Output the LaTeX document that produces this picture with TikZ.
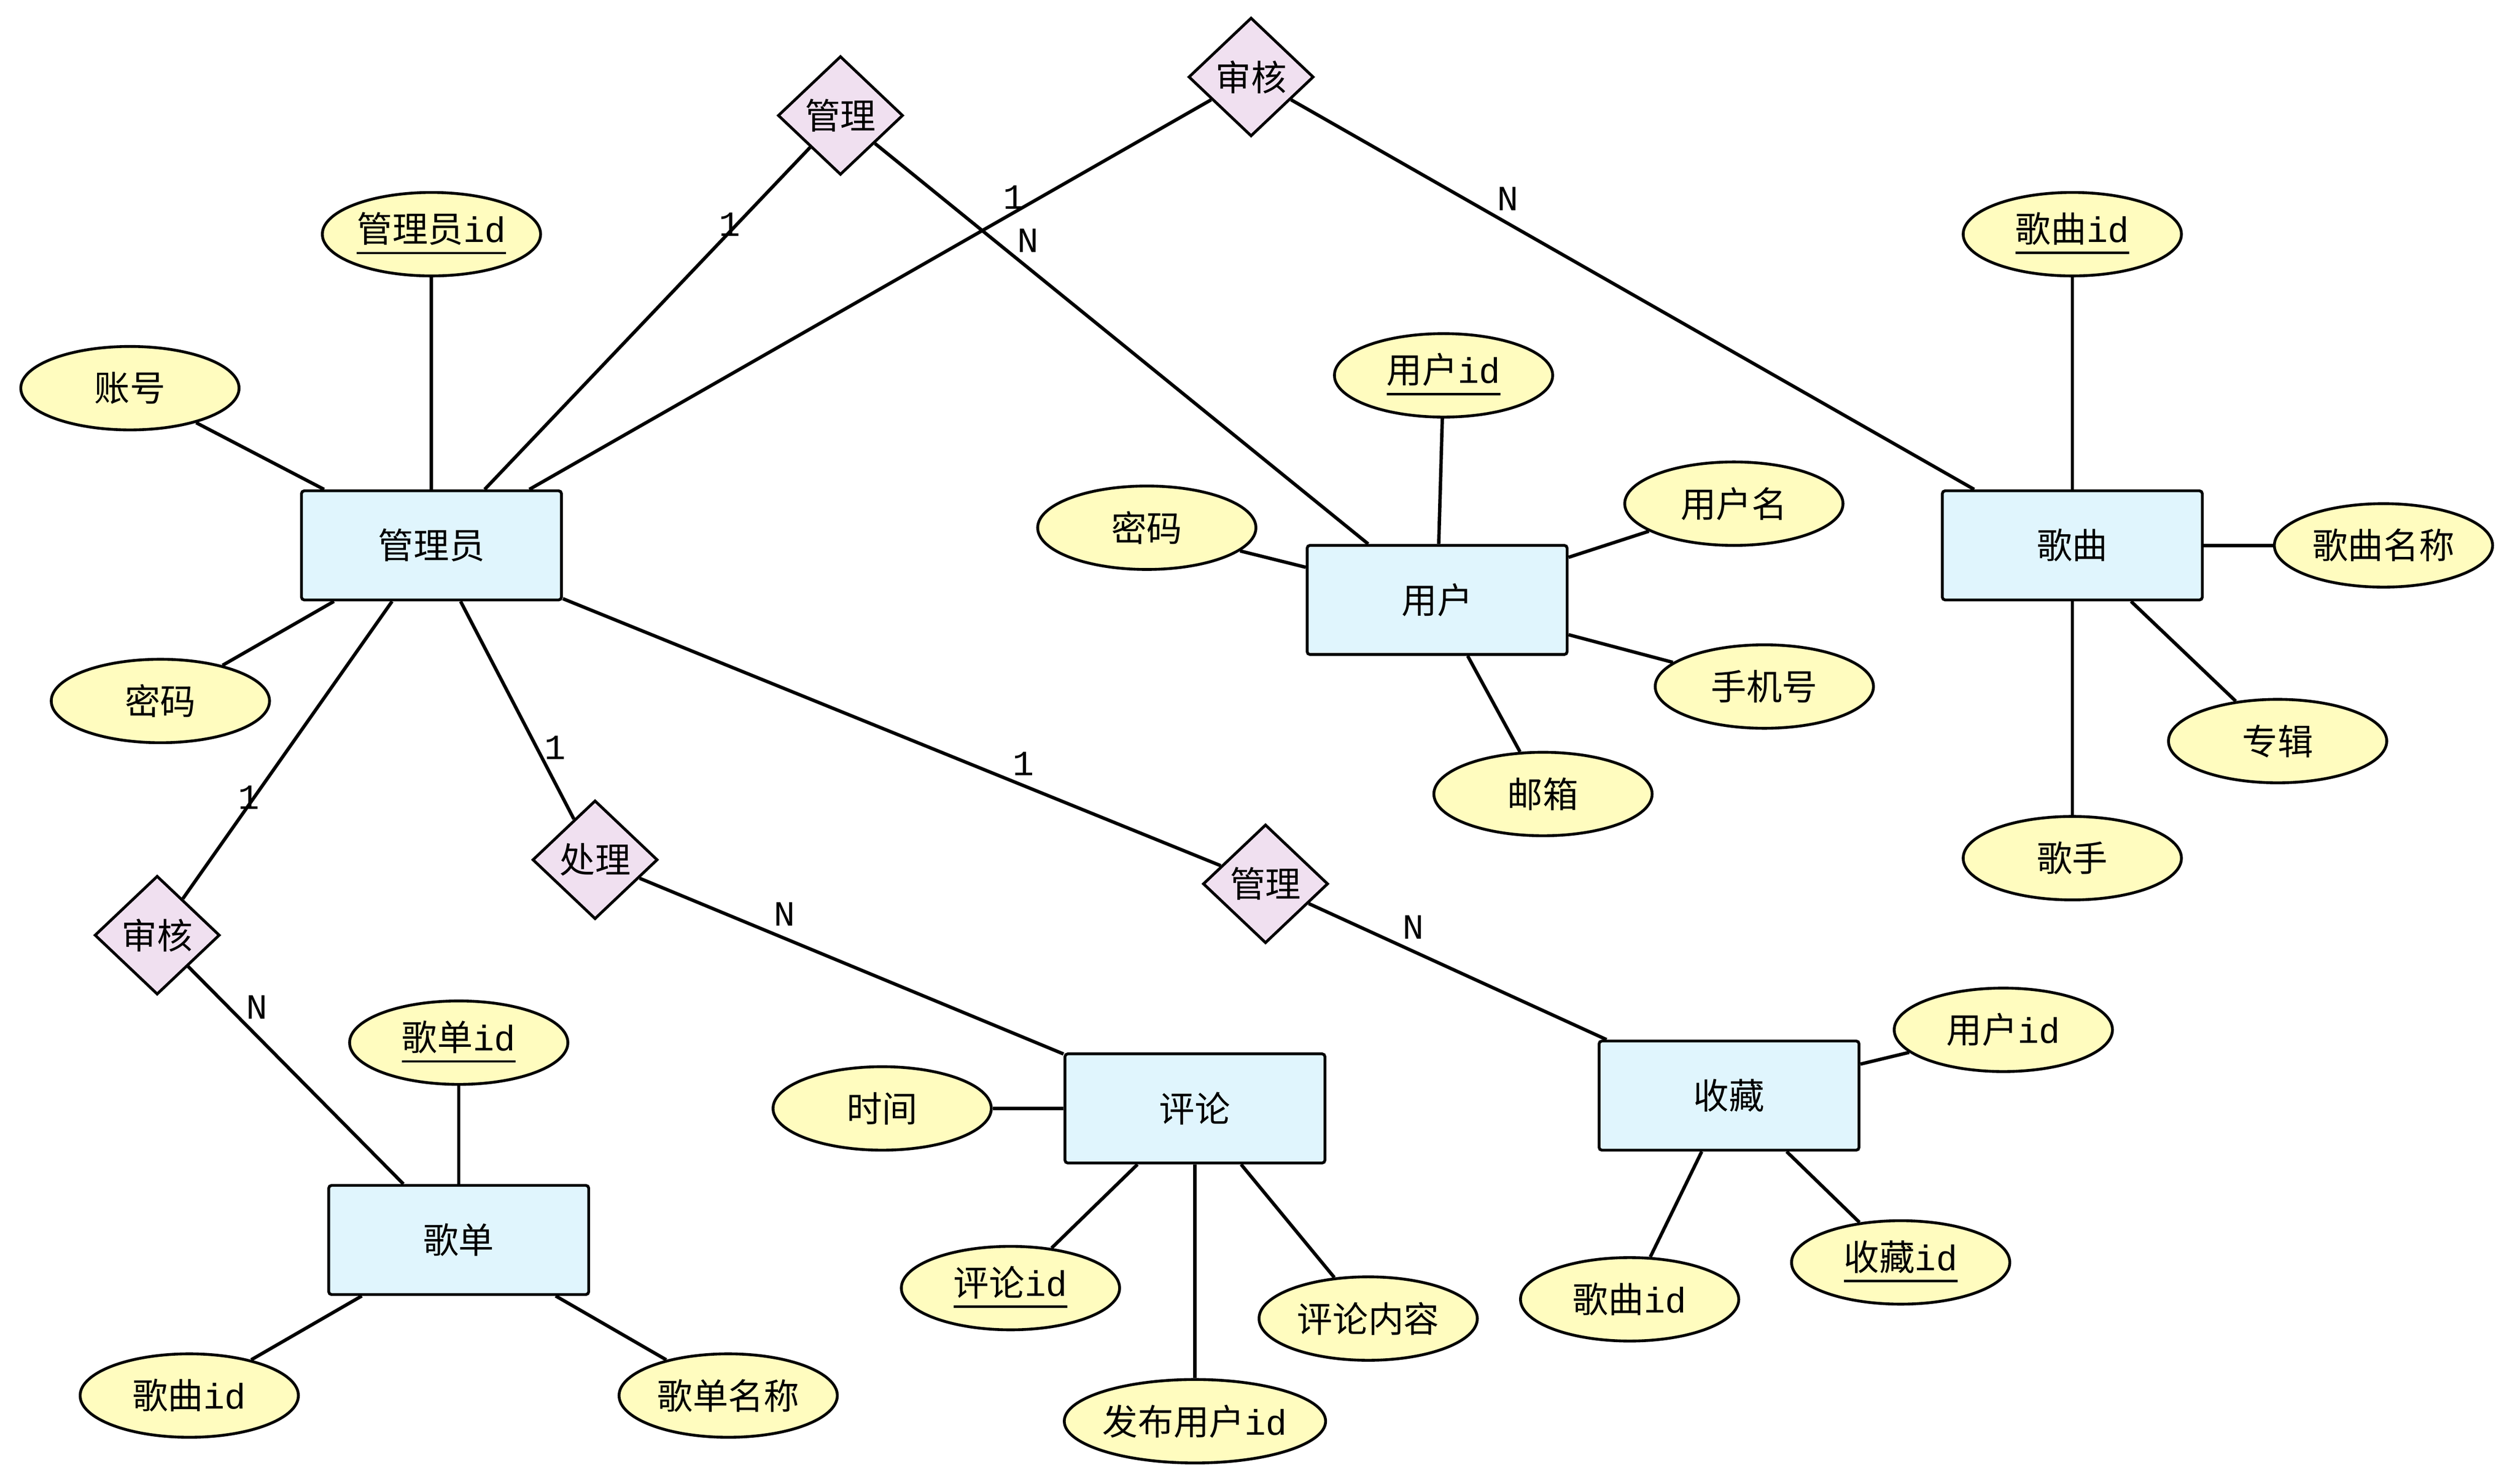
\documentclass[tikz,border=0pt]{standalone}
\usepackage{fontspec}
\setmainfont{Liberation Mono}
\newfontfamily\cjk{Noto Sans CJK SC}
\usetikzlibrary{shapes.geometric}
\begin{document}
\begin{tikzpicture}[x=0.01cm,y=-0.01cm,
  every node/.style={font=\fontsize{6.3}{7}\selectfont},
  ent/.style={draw,rectangle,rounded corners=0.5pt,fill=cyan!12,minimum width=1.62cm,minimum height=0.68cm,line width=0.5pt},
  att/.style={draw,ellipse,fill=yellow!25,minimum width=1.36cm,minimum height=0.52cm,inner sep=0pt,line width=0.5pt},
  rel/.style={draw,diamond,fill=violet!12,minimum width=0.78cm,minimum height=0.74cm,inner sep=0pt,line width=0.5pt},
  lk/.style={line width=0.6pt},
  card/.style={font=\fontsize{6.3}{7}\selectfont}]
\useasboundingbox (0,0) rectangle (1568,925);
% entities
\node[ent] (admin) at (269,340) {\cjk 管理员};
\node[ent] (user) at (896,374) {\cjk 用户};
\node[ent] (song) at (1292,340) {\cjk 歌曲};
\node[ent] (list) at (286,773) {\cjk 歌单};
\node[ent] (cmt) at (745,691) {\cjk 评论};
\node[ent] (fav) at (1078,683) {\cjk 收藏};
% attributes
\node[att] (a1) at (269,146) {\underline{{\cjk 管理员}id}};
\node[att] (a2) at (81,242) {\cjk 账号};
\node[att] (a3) at (100,437) {\cjk 密码};
\node[att] (u1) at (900,234) {\underline{{\cjk 用户}id}};
\node[att] (u2) at (715,329) {\cjk 密码};
\node[att] (u3) at (1081,314) {\cjk 用户名};
\node[att] (u4) at (1100,428) {\cjk 手机号};
\node[att] (u5) at (962,495) {\cjk 邮箱};
\node[att] (s1) at (1292,146) {\underline{{\cjk 歌曲}id}};
\node[att] (s2) at (1486,340) {\cjk 歌曲名称};
\node[att] (s3) at (1420,462) {\cjk 专辑};
\node[att] (s4) at (1292,535) {\cjk 歌手};
\node[att] (l1) at (286,650) {\underline{{\cjk 歌单}id}};
\node[att] (l2) at (118,870) {{\cjk 歌曲}id};
\node[att] (l3) at (454,870) {\cjk 歌单名称};
\node[att] (c1) at (550,691) {\cjk 时间};
\node[att] (c2) at (630,803) {\underline{{\cjk 评论}id}};
\node[att] (c3) at (745,886) {{\cjk 发布用户}id};
\node[att] (c4) at (853,822) {\cjk 评论内容};
\node[att] (f1) at (1249,642) {{\cjk 用户}id};
\node[att] (f2) at (1016,810) {{\cjk 歌曲}id};
\node[att] (f3) at (1185,787) {\underline{{\cjk 收藏}id}};
% relations
\node[rel] (r1) at (524,72) {\cjk 管理};
\node[rel] (r2) at (780,48) {\cjk 审核};
\node[rel] (r3) at (98,583) {\cjk 审核};
\node[rel] (r4) at (371,536) {\cjk 处理};
\node[rel] (r5) at (789,551) {\cjk 管理};
% attribute links
\foreach \e/\a in {admin/a1,admin/a2,admin/a3,user/u1,user/u2,user/u3,user/u4,user/u5,song/s1,song/s2,song/s3,song/s4,list/l1,list/l2,list/l3,cmt/c1,cmt/c2,cmt/c3,cmt/c4,fav/f1,fav/f2,fav/f3}
  \draw[lk] (\e) -- (\a);
% relation links
\draw[lk] (admin) -- (r1); \draw[lk] (r1) -- (user);
\draw[lk] (admin) -- (r2); \draw[lk] (r2) -- (song);
\draw[lk] (admin) -- (r3); \draw[lk] (r3) -- (list);
\draw[lk] (admin) -- (r4); \draw[lk] (r4) -- (cmt);
\draw[lk] (admin) -- (r5); \draw[lk] (r5) -- (fav);
% cardinalities
\node[card] (k1) at (455,140) {1};
\node[card] (k2) at (641,150) {N};
\node[card] (k3) at (632,123) {1};
\node[card] (k4) at (940,124) {N};
\node[card] (k5) at (155,497) {1};
\node[card] (k6) at (160,628) {N};
\node[card] (k7) at (346,466) {1};
\node[card] (k8) at (489,570) {N};
\node[card] (k9) at (638,476) {1};
\node[card] (k10) at (881,578) {N};
\end{tikzpicture}
\end{document}
